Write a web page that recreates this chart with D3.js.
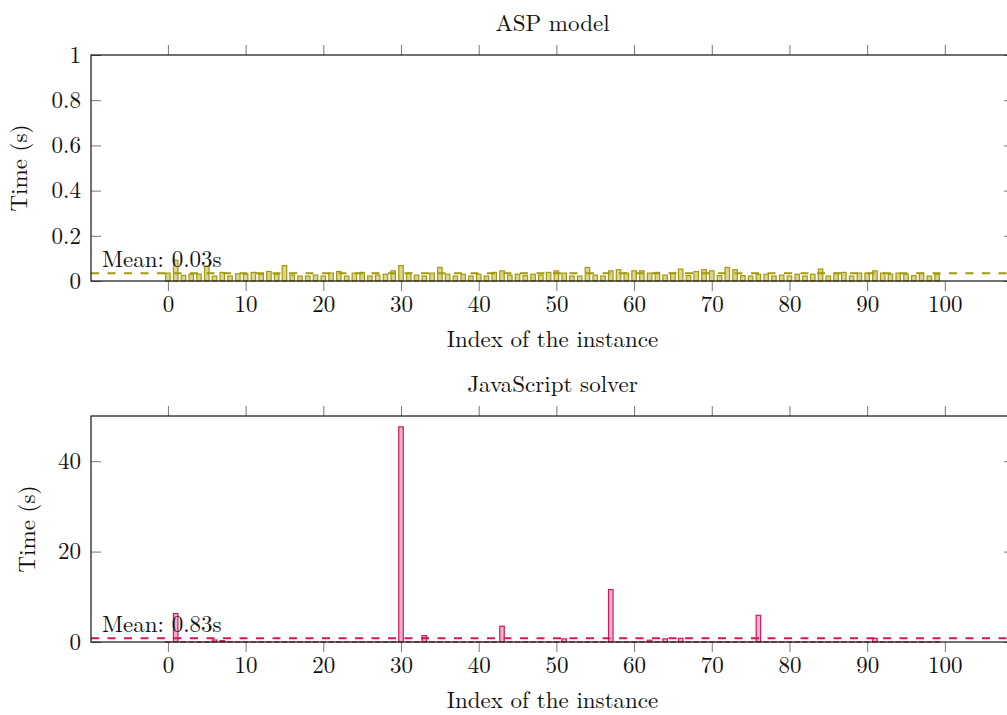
<!DOCTYPE html>
<html>
<head>
<meta charset="utf-8">
<script src="https://cdn.jsdelivr.net/npm/d3@7/dist/d3.min.js"></script>
<style>
  body { margin: 0; background: #fff; }
  svg text { font-family: "Latin Modern Roman", "CMU Serif", "Liberation Serif", serif; font-size: 23px; fill: #111; }
</style>
</head>
<body>
<div id="chart"></div>
<script>
// time per instance (s), instances 0..99
var aspTimes = [0.035,0.092,0.025,0.030,0.030,0.066,0.022,0.038,0.022,0.032,
                0.030,0.038,0.030,0.042,0.030,0.068,0.026,0.022,0.022,0.026,
                0.022,0.035,0.042,0.022,0.035,0.038,0.022,0.026,0.030,0.045,
                0.068,0.035,0.026,0.022,0.035,0.060,0.030,0.022,0.030,0.022,
                0.030,0.022,0.038,0.045,0.026,0.030,0.024,0.030,0.026,0.038,
                0.045,0.035,0.022,0.022,0.060,0.026,0.022,0.045,0.050,0.035,
                0.045,0.045,0.035,0.038,0.026,0.035,0.053,0.024,0.042,0.050,
                0.045,0.024,0.060,0.050,0.024,0.022,0.030,0.030,0.022,0.026,
                0.022,0.030,0.022,0.030,0.053,0.022,0.035,0.038,0.022,0.035,
                0.035,0.045,0.035,0.030,0.035,0.030,0.024,0.035,0.022,0.030];

var jsTimes = [0.03,6.3,0.03,0.02,0.03,0.03,0.45,0.3,0.03,0.02,
               0.03,0.02,0.03,0.03,0.02,0.04,0.03,0.02,0.03,0.03,
               0.02,0.03,0.03,0.02,0.03,0.03,0.02,0.03,0.03,0.04,
               47.6,0.03,0.02,1.4,0.03,0.03,0.02,0.03,0.02,0.03,
               0.02,0.03,0.03,3.5,0.03,0.02,0.03,0.02,0.03,0.03,
               0.03,0.7,0.02,0.03,0.04,0.03,0.02,11.6,0.03,0.03,
               0.03,0.03,0.4,0.03,0.7,0.03,0.8,0.03,0.03,0.04,
               0.03,0.03,0.04,0.03,0.02,0.02,5.9,0.03,0.02,0.03,
               0.02,0.03,0.02,0.03,0.04,0.02,0.03,0.03,0.02,0.03,
               0.03,0.8,0.03,0.03,0.03,0.03,0.02,0.03,0.02,0.03];

var xTicks = [0,10,20,30,40,50,60,70,80,90,100];
var aspTicks = [0,0.2,0.4,0.6,0.8,1];
var jsTicks = [0,20,40];

var svg = d3.select("#chart").append("svg")
    .attr("width", 1007)
    .attr("height", 715);

// enlargelimits 0.1 around 0..99
var x = d3.scaleLinear().domain([-9.9, 108.9]).range([91, 1014]);
var fmt = d3.format("~g");

function drawPanel(opts) {
    var y = d3.scaleLinear().domain(opts.ydomain).range([opts.bottom, opts.top]);
    var g = svg.append("g");
    var data = opts.values.map(function(v, i) { return {i: i, v: v}; });

    // bars
    g.selectAll(".bar").data(data).enter().append("rect")
        .attr("class", "bar")
        .attr("x", function(d) { return x(d.i - 0.29); })
        .attr("width", x(0.29) - x(-0.29))
        .attr("y", function(d) { return y(d.v); })
        .attr("height", function(d) { return y(0) - y(d.v); })
        .attr("fill", opts.fill)
        .attr("stroke", opts.stroke)
        .attr("stroke-width", 1.2);

    // axes
    var bottomAxis = d3.axisBottom(x).tickValues(xTicks).tickFormat(fmt).tickSize(10).tickPadding(5);
    var topAxis = d3.axisTop(x).tickValues(xTicks).tickFormat("").tickSize(10);
    var leftAxis = d3.axisLeft(y).tickValues(opts.ticks).tickFormat(fmt).tickSize(-10).tickPadding(10);
    var rightAxis = d3.axisRight(y).tickValues(opts.ticks).tickFormat("").tickSize(-10);

    var ab = g.append("g").attr("transform", "translate(0," + opts.bottom + ")").call(bottomAxis);
    var at = g.append("g").attr("transform", "translate(0," + opts.top + ")").call(topAxis);
    var al = g.append("g").attr("transform", "translate(" + x.range()[0] + ",0)").call(leftAxis);
    var ar = g.append("g").attr("transform", "translate(" + x.range()[1] + ",0)").call(rightAxis);
    [ab, at, al, ar].forEach(function(a) {
        a.select(".domain").remove();
        a.selectAll(".tick line").attr("stroke", "#777").attr("stroke-width", 1);
        a.selectAll("text").attr("font-family", null).attr("font-size", null).attr("fill", "#111");
    });

    // mean line
    var mean = d3.mean(opts.values);
    g.append("line")
        .attr("x1", x.range()[0]).attr("x2", x.range()[1])
        .attr("y1", y(mean)).attr("y2", y(mean))
        .attr("stroke", opts.stroke)
        .attr("stroke-width", 2)
        .attr("stroke-dasharray", "8,8.5");
    g.append("text")
        .attr("x", x.range()[0] + 11)
        .attr("y", y(mean) - 6)
        .text("Mean: " + d3.format(".2f")(mean) + "s");

    // box
    g.append("rect")
        .attr("x", x.range()[0]).attr("y", opts.top)
        .attr("width", x.range()[1] - x.range()[0])
        .attr("height", opts.bottom - opts.top)
        .attr("fill", "none").attr("stroke", "#111").attr("stroke-width", 1.2);

    // labels
    g.append("text")
        .attr("x", (x.range()[0] + x.range()[1]) / 2)
        .attr("y", opts.top - 24)
        .attr("text-anchor", "middle")
        .text(opts.title);
    g.append("text")
        .attr("x", (x.range()[0] + x.range()[1]) / 2)
        .attr("y", opts.bottom + 66)
        .attr("text-anchor", "middle")
        .text("Index of the instance");
    g.append("text")
        .attr("transform", "translate(" + opts.ylabelX + "," + (opts.top + opts.bottom) / 2 + ") rotate(-90)")
        .attr("text-anchor", "middle")
        .attr("dy", "0.32em")
        .text("Time (s)");
}

drawPanel({
    title: "ASP model", values: aspTimes, ydomain: [0, 1], ticks: aspTicks,
    top: 55, bottom: 281, ylabelX: 20,
    fill: "#dcd58c", stroke: "#a39812"
});

drawPanel({
    title: "JavaScript solver", values: jsTimes, ydomain: [0, 50], ticks: jsTicks,
    top: 416, bottom: 642, ylabelX: 28,
    fill: "#f2b2c7", stroke: "#d4175e"
});
</script>
</body>
</html>
